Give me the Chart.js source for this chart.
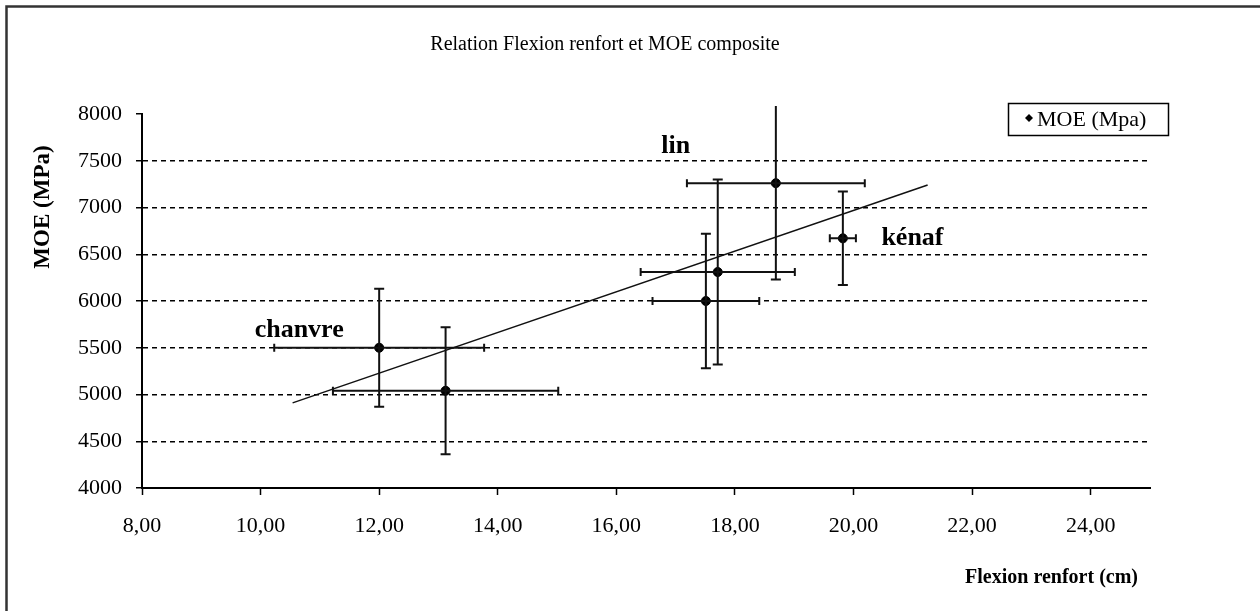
<!DOCTYPE html>
<html>
<head>
<meta charset="utf-8">
<script src="https://cdn.jsdelivr.net/npm/chart.js@4"></script>
<style>
  html, body { margin: 0; padding: 0; background: #fff; }
  #wrap { width: 1260px; height: 611px; }
</style>
</head>
<body>
<div id="wrap"><canvas id="myChart" width="1260" height="611"></canvas></div>
<script>
// valeurs
const flexion = [12.0, 13.12, 17.51, 17.71, 18.69, 19.82];
const moe = [5500, 5040, 6000, 6310, 7260, 6670];
const flexionErr = [1.77, 1.9, 0.9, 1.3, 1.5, 0.22];
const moeErr = [630, 680, 720, 990, 1030, 500];

// courbe de tendance (extrémités)
const trendX = [10.54, 21.25];
const trendY = [4910, 7240];

const xTicks = [8, 10, 12, 14, 16, 18, 20, 22, 24];
const fibres = ['chanvre', 'lin', 'kénaf'];
const fibreX = [9.9, 17.0, 20.47];
const fibreY = [5615, 7583, 6599];

const serif = "'Liberation Serif', 'Times New Roman', serif";

// barres d'erreur + textes
const decorations = {
  id: 'decorations',
  beforeDraw: (chart) => {
    let c = chart.ctx;
    c.save();
    c.fillStyle = '#fff';
    c.fillRect(0, 0, chart.width, chart.height);
    c.strokeStyle = '#333';
    c.lineWidth = 2.5;
    c.strokeRect(6.5, 6.5, 1400, 800);
    c.restore();
  },
  afterDatasetsDraw: (chart) => {
    let c = chart.ctx;
    let xs = chart.scales.x;
    let ys = chart.scales.y;
    let top = chart.chartArea.top - 8;
    c.save();
    c.strokeStyle = '#111';
    c.lineWidth = 2;
    flexion.forEach((fx, i) => {
      let px = xs.getPixelForValue(fx);
      let py = ys.getPixelForValue(moe[i]);
      let y1 = ys.getPixelForValue(moe[i] + moeErr[i]);
      let y2 = ys.getPixelForValue(moe[i] - moeErr[i]);
      let clipped = y1 < top;
      if (clipped) y1 = top;
      let x1 = xs.getPixelForValue(fx - flexionErr[i]);
      let x2 = xs.getPixelForValue(fx + flexionErr[i]);
      c.beginPath();
      c.moveTo(px, y1); c.lineTo(px, y2);
      if (!clipped) { c.moveTo(px - 5, y1); c.lineTo(px + 5, y1); }
      c.moveTo(px - 5, y2); c.lineTo(px + 5, y2);
      c.moveTo(x1, py); c.lineTo(x2, py);
      c.moveTo(x1, py - 4); c.lineTo(x1, py + 4);
      c.moveTo(x2, py - 4); c.lineTo(x2, py + 4);
      c.stroke();
    });
    c.restore();
  },
  afterDraw: (chart) => {
    let c = chart.ctx;
    let xs = chart.scales.x;
    let ys = chart.scales.y;
    c.save();
    c.fillStyle = '#000';

    c.font = '20px ' + serif;
    c.textAlign = 'center';
    c.textBaseline = 'middle';
    c.fillText('Relation Flexion renfort et MOE composite', 605, 45);

    c.font = 'bold 26px ' + serif;
    c.textAlign = 'left';
    c.textBaseline = 'alphabetic';
    fibres.forEach((nom, i) => {
      let w = c.measureText(nom).width;
      let px = xs.getPixelForValue(fibreX[i]);
      if (nom == 'lin') px = px - w / 2;
      c.fillText(nom, px, ys.getPixelForValue(fibreY[i]));
    });

    c.font = 'bold 20px ' + serif;
    c.textAlign = 'right';
    c.textBaseline = 'middle';
    c.fillText('Flexion renfort (cm)', 1138, 578);

    c.save();
    c.font = 'bold 23px ' + serif;
    c.translate(43, 207);
    c.rotate(-Math.PI / 2);
    c.textAlign = 'center';
    c.fillText('MOE (MPa)', 0, 0);
    c.restore();

    // légende
    c.strokeStyle = '#000';
    c.lineWidth = 1.5;
    c.strokeRect(1008.5, 103.5, 160, 32);
    c.beginPath();
    c.moveTo(1029, 114); c.lineTo(1033, 118); c.lineTo(1029, 122); c.lineTo(1025, 118);
    c.closePath();
    c.fill();
    c.font = '22px ' + serif;
    c.textAlign = 'left';
    c.fillText(chart.data.datasets[0].label, 1037, 120);
    c.restore();
  }
};

let ctx = document.getElementById('myChart').getContext('2d');
let chart = new Chart(ctx, {
  type: 'scatter',
  data: {
    datasets: [{
      label: 'MOE (Mpa)',
      data: flexion.map((v, i) => ({ x: v, y: moe[i] })),
      backgroundColor: '#000',
      borderColor: '#000',
      pointRadius: 4.5,
      pointHoverRadius: 4.5
    }, {
      label: 'tendance',
      data: trendX.map((v, i) => ({ x: v, y: trendY[i] })),
      showLine: true,
      borderColor: '#111',
      borderWidth: 1.5,
      pointRadius: 0
    }]
  },
  options: {
    responsive: false,
    animation: false,
    events: [],
    layout: { padding: { top: 114, right: 110, left: 0, bottom: 0 } },
    plugins: {
      legend: { display: false },
      title: { display: false },
      tooltip: { enabled: false }
    },
    scales: {
      x: {
        type: 'linear',
        min: 8,
        max: 25,
        afterBuildTicks: (scale) => { scale.ticks = xTicks.map((v) => ({ value: v })); },
        afterFit: (scale) => { scale.height = 123; },
        ticks: {
          color: '#000',
          padding: 18,
          maxRotation: 0,
          font: { family: serif, size: 22 },
          callback: (v) => v.toFixed(2).replace('.', ',')
        },
        grid: { drawOnChartArea: false, drawTicks: true, tickLength: 7, color: '#000', tickWidth: 1.5 },
        border: { color: '#000', width: 2 }
      },
      y: {
        min: 4000,
        max: 8000,
        afterFit: (scale) => { scale.width = 142; },
        ticks: {
          stepSize: 500,
          color: '#000',
          padding: 14,
          font: { family: serif, size: 22 },
          callback: (v) => String(v)
        },
        grid: {
          drawTicks: true,
          tickLength: 6,
          tickColor: '#000',
          tickWidth: 1.5,
          lineWidth: 1.5,
          color: (c) => (c.tick && (c.tick.value == 8000 || c.tick.value == 4000)) ? 'rgba(0,0,0,0)' : '#000'
        },
        border: { color: '#000', width: 2, dash: [5, 4] }
      }
    }
  },
  plugins: [decorations]
});
</script>
</body>
</html>
